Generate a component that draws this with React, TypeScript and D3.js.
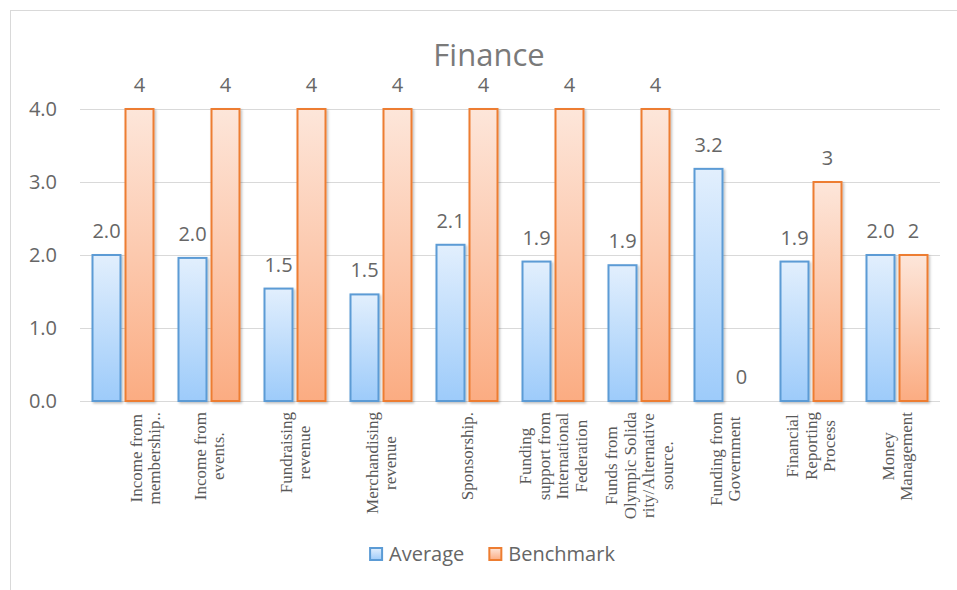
import React from "react";
import * as d3 from "d3";

const categories: string[][] = [
  ["Income from", "membership.."],
  ["Income from", "events."],
  ["Fundraising", "revenue"],
  ["Merchandising", "revenue"],
  ["Sponsorship."],
  ["Funding", "support from", "International", "Federation"],
  ["Funds from", "Olympic Solida", "rity/Alternative", "source."],
  ["Funding from", "Government"],
  ["Financial", "Reporting", "Process"],
  ["Money", "Management"],
];
const averageValues = [2.0, 1.96, 1.54, 1.46, 2.14, 1.91, 1.86, 3.18, 1.91, 2.0];
const benchmarkValues = [4, 4, 4, 4, 4, 4, 4, 0, 3, 2];
const yTicks = [0, 1, 2, 3, 4];
const seriesNames = ["Average", "Benchmark"];
const title = "Finance";

const W = 957;
const H = 590;
const plot = { left: 80, right: 940, top: 109, bottom: 401 };
const SANS = "'Open Sans', 'Noto Sans', sans-serif";
const SERIF = "'Liberation Serif', 'Times New Roman', serif";
const textColor = "#666666";

let ctx: CanvasRenderingContext2D | null = null;
function measure(text: string, font: string): number {
  if (!ctx) {
    const c = document.createElement("canvas");
    ctx = c.getContext("2d");
  }
  if (!ctx) return text.length * 8;
  ctx.font = font;
  return ctx.measureText(text).width;
}

export default function App() {
  const keys = categories.map((_, i) => String(i));
  const x0 = d3.scaleBand<string>().domain(keys).range([plot.left, plot.right]).padding(0);
  const step = x0.bandwidth();
  const groupW = 61;
  const x1 = d3
    .scaleBand<string>()
    .domain(seriesNames)
    .range([(step - groupW) / 2, (step + groupW) / 2])
    .paddingInner(0.1515)
    .paddingOuter(0);
  const y = d3.scaleLinear().domain([0, 4]).range([plot.bottom, plot.top]);
  const bw = x1.bandwidth();

  const series = [
    { name: "Average", values: averageValues, fmt: d3.format(".1f"), grad: "gBlue", stroke: "#5b9bd5" },
    { name: "Benchmark", values: benchmarkValues, fmt: d3.format("d"), grad: "gOrange", stroke: "#ed7d31" },
  ];

  const labelSize = 17;
  const labelFont = `${labelSize}px ${SERIF}`;
  const lineGap = 18.5;
  const labelTop = 412;
  const minLabelLeft = 127;

  // legend layout
  const legendFont = `20px ${SANS}`;
  const sq = 14;
  const sqGap = 6;
  const itemGap = 24;
  const widths = seriesNames.map((n) => measure(n, legendFont));
  const totalW = widths.reduce((a, w) => a + sq + sqGap + w, 0) + itemGap * (seriesNames.length - 1);
  let lx = 492 - totalW / 2;
  const legendItems = seriesNames.map((n, i) => {
    const item = { x: lx, name: n, s: series[i] };
    lx += sq + sqGap + widths[i] + itemGap;
    return item;
  });

  return (
    <svg
      width={W}
      height={H}
      style={{ position: "absolute", left: 0, top: 0, background: "#fff" }}
    >
      <defs>
        <linearGradient id="gBlue" x1="0" y1="0" x2="0" y2="1">
          <stop offset="0%" stopColor="#e2effd" />
          <stop offset="100%" stopColor="#9dcbfa" />
        </linearGradient>
        <linearGradient id="gOrange" x1="0" y1="0" x2="0" y2="1">
          <stop offset="0%" stopColor="#fde6da" />
          <stop offset="100%" stopColor="#fbac82" />
        </linearGradient>
        <filter id="shadow" x="-20%" y="-5%" width="150%" height="115%">
          <feDropShadow dx="1.5" dy="1.5" stdDeviation="1.2" floodColor="#000" floodOpacity="0.25" />
        </filter>
      </defs>
      <rect x={10.5} y={10.5} width={960} height={600} fill="#fff" stroke="#d9d9d9" strokeWidth={1} />

      <text x={489} y={66} textAnchor="middle" fontFamily={SANS} fontSize={31} fill="#7a7a7a">
        {title}
      </text>

      {yTicks.map((t) => (
        <g key={t}>
          <line x1={plot.left} x2={plot.right} y1={Math.round(y(t)) + 0.5} y2={Math.round(y(t)) + 0.5} stroke="#d9d9d9" strokeWidth={1} />
          <text x={57} y={y(t)} dy="0.35em" textAnchor="end" fontFamily={SANS} fontSize={20} fill={textColor}>
            {d3.format(".1f")(t)}
          </text>
        </g>
      ))}

      {series.map((s) => (
        <g key={s.name}>
          {s.values.map((v, i) => {
            const bx = (x0(String(i)) as number) + (x1(s.name) as number);
            const by = y(v);
            const h = y(0) - by;
            return (
              <g key={i}>
                {h > 0 && (
                  <rect
                    x={bx}
                    y={by}
                    width={bw}
                    height={h}
                    fill={`url(#${s.grad})`}
                    stroke={s.stroke}
                    strokeWidth={2}
                    filter="url(#shadow)"
                  />
                )}
                <text
                  x={bx + bw / 2}
                  y={by - 17}
                  textAnchor="middle"
                  fontFamily={SANS}
                  fontSize={20}
                  fill={textColor}
                >
                  {s.fmt(v)}
                </text>
              </g>
            );
          })}
        </g>
      ))}

      {categories.map((lines, i) => {
        const cx = (x0(String(i)) as number) + step / 2;
        const n = lines.length;
        const left = cx - ((n - 1) / 2) * lineGap - 9;
        const shift = Math.max(0, minLabelLeft - left);
        const maxLen = Math.max(...lines.map((l) => measure(l, labelFont)));
        const midY = labelTop + maxLen / 2;
        return (
          <g key={i}>
            {lines.map((l, j) => {
              const lxp = cx + shift + (j - (n - 1) / 2) * lineGap;
              return (
                <text
                  key={j}
                  transform={`translate(${lxp},${midY}) rotate(-90)`}
                  textAnchor="middle"
                  dy="0.35em"
                  fontFamily={SERIF}
                  fontSize={labelSize}
                  fill="#595959"
                >
                  {l}
                </text>
              );
            })}
          </g>
        );
      })}

      {legendItems.map((it) => (
        <g key={it.name}>
          <rect
            x={it.x + 1}
            y={548}
            width={sq - 2}
            height={sq - 2}
            fill={`url(#${it.s.grad})`}
            stroke={it.s.stroke}
            strokeWidth={2}
          />
          <text x={it.x + sq + sqGap} y={554} dy="0.35em" fontFamily={SANS} fontSize={20} fill={textColor}>
            {it.name}
          </text>
        </g>
      ))}
    </svg>
  );
}
